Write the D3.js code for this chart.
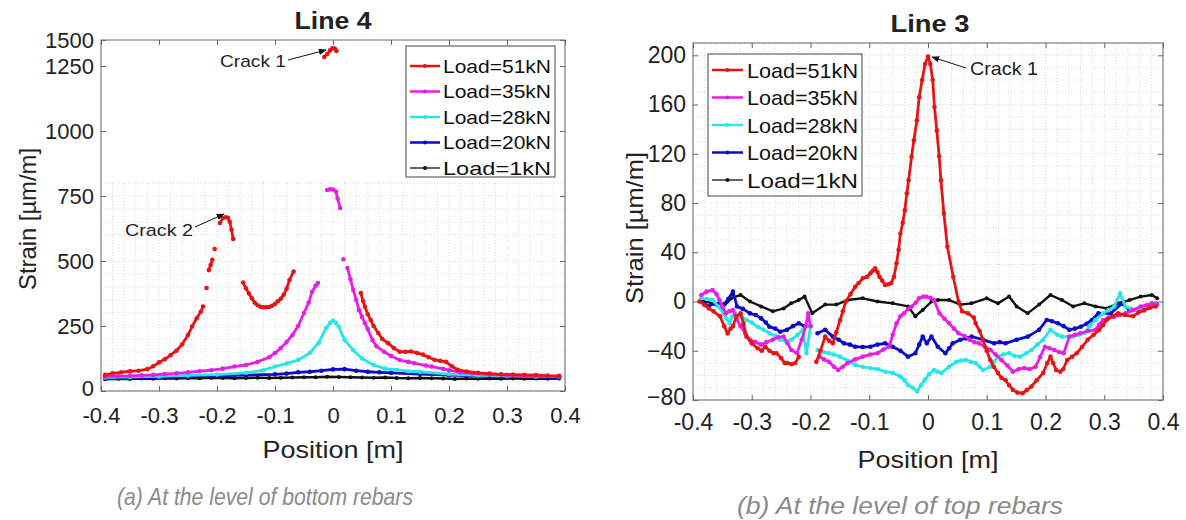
<!DOCTYPE html>
<html><head><meta charset="utf-8">
<script src="https://cdn.jsdelivr.net/npm/d3@7"></script>
<style>
body{margin:0;background:#fff;}
svg{display:block;font-family:"Liberation Sans",Arial,Helvetica,sans-serif;}
</style></head>
<body><svg id="c" width="1186" height="520"></svg>
<script>
// ---------- DATA ----------
const seriesNames = ["Load=51kN","Load=35kN","Load=28kN","Load=20kN","Load=1kN"];
const seriesColors = ["#e61414","#e61ee6","#28e6e6","#0a0ac8","#111111"];
const xTicks = [-0.4,-0.3,-0.2,-0.1,0,0.1,0.2,0.3,0.4];
const xTickLabels = ["-0.4","-0.3","-0.2","-0.1","0","0.1","0.2","0.3","0.4"];
const yTicksL4 = [0,250,500,750,1000,1250,1500];
const yTicksL3 = [-80,-40,0,40,80,120,160,200];

// Line 4 (bottom rebars): [position m, strain µm/m]; null = gap
const L4_51 = [[-0.393,62],[-0.38,68],[-0.365,72],[-0.35,76],[-0.335,78],[-0.32,84],[-0.31,95],[-0.3,110],[-0.29,122],[-0.28,138],[-0.27,155],[-0.26,180],[-0.25,215],[-0.243,248],[-0.235,280],[-0.228,305],[-0.224,325],null,
  [-0.218,396],null,[-0.214,465],[-0.211,485],[-0.208,505],null,[-0.204,546],null,
  [-0.195,646],[-0.19,665],[-0.185,668],[-0.181,666],[-0.178,651],[-0.175,620],[-0.172,585],null,
  [-0.155,417],[-0.15,395],[-0.145,375],[-0.14,357],[-0.135,340],[-0.13,330],[-0.125,324],[-0.12,322],[-0.115,322],[-0.11,323],[-0.105,328],[-0.1,335],[-0.095,345],[-0.09,355],[-0.085,370],[-0.08,393],[-0.075,427],[-0.068,459],null,
  [-0.015,1337],[-0.01,1365],[-0.005,1400],[-0.001,1420],[0.003,1418],[0.006,1395],null,
  [0.048,377],[0.052,345],[0.055,324],[0.06,295],[0.065,273],[0.07,250],[0.078,223],[0.085,200],[0.095,184],[0.105,165],[0.115,151],[0.125,151],[0.135,152],[0.145,146],[0.155,140],[0.165,130],[0.175,120],[0.185,116],[0.195,112],[0.205,95],[0.215,82],[0.23,75],[0.25,70],[0.27,67],[0.29,64],[0.31,63],[0.33,62],[0.35,61],[0.37,59],[0.39,58]];
const L4_35 = [[-0.393,55],[-0.37,57],[-0.35,58],[-0.33,60],[-0.31,62],[-0.29,65],[-0.27,68],[-0.25,72],[-0.23,76],[-0.21,80],[-0.19,86],[-0.17,94],[-0.15,100],[-0.13,112],[-0.11,130],[-0.1,146],[-0.09,165],[-0.08,188],[-0.07,215],[-0.06,250],[-0.05,300],[-0.042,340],[-0.036,382],[-0.03,405],[-0.026,415],null,
  [-0.01,773],[-0.005,776],[0,775],[0.005,767],[0.008,740],[0.0125,704],null,[0.018,507],null,
  [0.025,473],[0.03,430],[0.035,388],[0.04,350],[0.045,311],[0.05,285],[0.055,261],[0.06,238],[0.068,196],[0.075,172],[0.088,151],[0.1,135],[0.115,119],[0.13,112],[0.14,107],[0.16,98],[0.17,94],[0.19,85],[0.2,80],[0.22,72],[0.24,68],[0.27,63],[0.3,61],[0.33,59],[0.36,57],[0.39,55]];
const L4_28 = [[-0.393,52],[-0.35,54],[-0.3,56],[-0.25,60],[-0.2,63],[-0.15,70],[-0.12,80],[-0.1,94],[-0.08,106],[-0.06,119],[-0.04,146],[-0.025,184],[-0.012,242],[-0.005,262],[0,270],[0.005,262],[0.01,247],[0.02,196],[0.035,157],[0.05,125],[0.07,100],[0.09,86],[0.11,81],[0.13,76],[0.15,74],[0.2,65],[0.25,60],[0.3,58],[0.35,56],[0.39,55]];
const L4_20 = [[-0.393,48],[-0.35,50],[-0.3,52],[-0.25,55],[-0.2,58],[-0.15,61],[-0.1,64],[-0.08,67],[-0.06,72],[-0.04,74],[-0.02,78],[0,83],[0.02,84],[0.04,78],[0.06,74],[0.08,72],[0.1,70],[0.15,65],[0.2,61],[0.25,58],[0.3,56],[0.35,54],[0.39,52]];
const L4_1 = [[-0.393,45],[-0.37,47],[-0.35,46],[-0.33,48],[-0.31,47],[-0.29,49],[-0.27,48],[-0.25,50],[-0.23,49],[-0.21,51],[-0.19,50],[-0.17,49],[-0.15,50],[-0.13,51],[-0.11,50],[-0.09,51],[-0.07,52],[-0.05,53],[-0.03,53],[-0.01,55],[0.01,54],[0.03,53],[0.05,52],[0.07,51],[0.09,52],[0.11,50],[0.13,49],[0.15,50],[0.17,49],[0.19,48],[0.21,46],[0.23,48],[0.25,47],[0.27,48],[0.29,47],[0.31,48],[0.33,47],[0.35,48],[0.37,47],[0.39,48]];

// Line 3 (top rebars)
const L3_51 = [[-0.389,0],[-0.38,-3],[-0.373,-5.6],[-0.365,-8],[-0.354,-12],[-0.347,-20],[-0.341,-26],[-0.336,-22],[-0.332,-20],[-0.326,-12],[-0.319,-9.6],[-0.314,-18],[-0.309,-28.5],[-0.3,-34],[-0.29,-38],[-0.283,-40],[-0.277,-36.7],[-0.27,-40],[-0.263,-42],[-0.258,-42],[-0.25,-46],[-0.244,-50],[-0.239,-50],[-0.232,-51],[-0.226,-50],[-0.22,-45],null,
  [-0.19,-49],[-0.183,-40],[-0.175,-28.5],[-0.168,-32],[-0.162,-34],[-0.156,-25],[-0.1495,-15],[-0.145,-8],[-0.14,0],[-0.132,6],[-0.124,12],[-0.118,15],[-0.111,18.8],[-0.104,20],[-0.098,22.9],[-0.094,25],[-0.09,27],[-0.086,24],[-0.0825,20],[-0.078,17],[-0.073,13.4],[-0.068,14],[-0.063,14.8],[-0.058,20],[-0.0535,31],[-0.05,42],[-0.047,55],[-0.043,64],[-0.0395,74],[-0.036,88],[-0.033,98.6],[-0.028,117.5],[-0.024,131],[-0.019,147],[-0.015,166],[-0.01,180],[-0.005,193],[0,199],[0.004,193],[0.008,180],[0.011,158],[0.015,139],[0.019,118],[0.022,98.6],[0.027,71.6],[0.033,44.5],[0.043,20],[0.052,0],[0.058,-8],[0.068,-9.6],[0.078,-13],[0.081,-17.7],[0.088,-24],[0.0935,-31],[0.1,-40],[0.106,-47.5],[0.112,-53],[0.119,-58],[0.125,-62],[0.132,-64],[0.138,-68],[0.1445,-71.8],[0.152,-74],[0.161,-74.5],[0.168,-72],[0.176,-69],[0.185,-64],[0.196,-58],[0.203,-50],[0.2085,-44.8],[0.213,-50],[0.218,-55.6],[0.225,-57],[0.23,-55],[0.237,-47.5],[0.245,-45],[0.253,-42],[0.262,-37],[0.272,-31],[0.282,-27],[0.2915,-23],[0.298,-19],[0.304,-15],[0.314,-12],[0.3236,-9.6],[0.335,-11],[0.349,-12],[0.358,-9],[0.368,-7],[0.378,-5],[0.3875,-4]];
const L3_35 = [[-0.386,5.3],[-0.377,8],[-0.367,9.3],[-0.36,6],[-0.355,1.2],[-0.35,-4],[-0.344,-9.6],[-0.338,-8],[-0.332,-7],[-0.326,-14],[-0.319,-20],[-0.311,-26],[-0.303,-31],[-0.294,-33],[-0.284,-35],[-0.275,-33],[-0.2645,-31],[-0.255,-29],[-0.2457,-28.5],[-0.239,-34],[-0.2327,-39.4],[-0.223,-42],[-0.215,-31],[-0.208,-20],[-0.204,-9.6],[-0.2,-20],null,
  [-0.1845,-44.8],[-0.177,-47],[-0.1687,-49],[-0.16,-53],[-0.153,-55.6],[-0.145,-53],[-0.137,-50],[-0.124,-47],[-0.111,-44.8],[-0.098,-43],[-0.086,-42],[-0.076,-39],[-0.066,-36.7],[-0.06,-27],[-0.0535,-17.7],[-0.047,-12],[-0.041,-9.6],[-0.034,-6],[-0.028,-4.2],[-0.021,-1],[-0.0153,2.6],[-0.008,4],[-0.0026,3.9],[0.004,3],[0.01,1.2],[0.0196,-9.6],[0.028,-14],[0.036,-17.7],[0.044,-22],[0.052,-25.8],[0.062,-28],[0.071,-31],[0.079,-33],[0.087,-34],[0.097,-37],[0.1063,-39.4],[0.115,-43],[0.125,-47.5],[0.135,-52],[0.1446,-57],[0.154,-55],[0.164,-54],[0.173,-55],[0.183,-53],[0.191,-45],[0.199,-36.7],[0.207,-38],[0.215,-39.4],[0.223,-41],[0.231,-42],[0.2406,-28.5],[0.25,-27],[0.2594,-25.8],[0.272,-24],[0.285,-23],[0.291,-19],[0.298,-15],[0.307,-13],[0.317,-12.3],[0.326,-11],[0.336,-9.6],[0.349,-7],[0.362,-4],[0.372,-3],[0.381,-1.5],[0.39,-2.5]];
const L3_28 = [[-0.386,2.6],[-0.376,2],[-0.367,1.2],[-0.357,-4],[-0.348,-9.6],[-0.343,-14],[-0.338,-17.7],[-0.333,-12],[-0.328,-9.6],[-0.318,-12],[-0.309,-15],[-0.3,-17],[-0.29,-20.5],[-0.28,-23],[-0.27,-25.8],[-0.26,-28],[-0.2517,-31],[-0.243,-32],[-0.232,-31],[-0.222,-27],[-0.213,-23],[-0.207,-42],[-0.2,-20],null,
  [-0.188,-39.4],[-0.178,-41],[-0.169,-42],[-0.16,-43],[-0.15,-44.8],[-0.137,-48],[-0.124,-51.5],[-0.111,-53],[-0.098,-54.2],[-0.085,-55],[-0.073,-57],[-0.06,-58],[-0.047,-61],[-0.04,-64],[-0.034,-67.8],[-0.026,-70],[-0.0184,-73],[-0.012,-68],[-0.0056,-63.7],[0.002,-59],[0.01,-55.6],[0.016,-57],[0.023,-58],[0.036,-53],[0.0485,-49],[0.056,-48],[0.0646,-47.5],[0.073,-49],[0.081,-50],[0.088,-53],[0.0935,-55.6],[0.106,-53],[0.112,-49],[0.119,-44.8],[0.128,-43],[0.138,-42],[0.147,-44],[0.157,-44.8],[0.167,-42],[0.1765,-39.4],[0.186,-35],[0.196,-31],[0.2085,-23],[0.22,-27],[0.228,-28.5],[0.247,-28.5],[0.256,-27],[0.266,-25.8],[0.275,-20],[0.285,-15],[0.298,-9.6],[0.307,-7],[0.317,-4],[0.327,6.6],[0.336,-4],[0.346,-6],[0.3556,-7],[0.365,-5],[0.375,-4],[0.387,-1.5]];
const L3_20 = [[-0.386,1],[-0.38,-2],[-0.373,-4],[-0.365,-1.5],[-0.355,-2],[-0.348,-2.5],[-0.34,2],[-0.332,8],[-0.325,-4],[-0.315,-6],[-0.303,-9.6],[-0.293,-11],[-0.284,-13.7],[-0.276,-17],[-0.27,-20.5],[-0.26,-22],[-0.2517,-24.5],[-0.24,-23],[-0.23,-20],[-0.22,-17.7],[-0.21,-20],null,
  [-0.188,-25.8],[-0.175,-23],[-0.162,-28.5],[-0.152,-31],[-0.143,-34],[-0.133,-35],[-0.124,-36.7],[-0.111,-37],[-0.098,-36.7],[-0.086,-35],[-0.073,-34],[-0.06,-36.7],[-0.047,-40],[-0.034,-44.8],[-0.0216,-42],[-0.015,-35],[-0.009,-28.5],[-0.002,-34],[0.0059,-28.5],[0.0167,-36.7],[0.0296,-42],[0.036,-38],[0.042,-34],[0.055,-31],[0.065,-30],[0.0743,-28.5],[0.0935,-31],[0.1126,-34],[0.122,-33],[0.132,-34],[0.151,-31],[0.17,-28.5],[0.189,-23],[0.202,-15],[0.211,-16],[0.221,-17.7],[0.231,-20],[0.2406,-23],[0.25,-22],[0.26,-20.5],[0.27,-18],[0.279,-15],[0.29,-9.6],[0.311,-9.6],[0.33,-1.5],[0.343,-7],[0.368,-7],[0.3875,-1.5]];
const L3_1 = [[-0.386,1],[-0.367,-1.5],[-0.351,-5.6],[-0.335,2.6],[-0.319,5.3],[-0.303,0],[-0.284,-4],[-0.264,-8],[-0.2457,-5.6],[-0.233,-1.5],[-0.22,1.2],[-0.21,4],[-0.197,-9.6],[-0.175,-2.5],[-0.156,-2.5],[-0.137,1.2],[-0.111,2.6],[-0.086,0],[-0.06,-1.5],[-0.034,-4],[-0.0216,-12],[-0.009,-6.9],[0.006,0],[0.0167,1.2],[0.036,1.2],[0.055,-2.5],[0.074,-1.5],[0.0999,2.6],[0.119,-1.5],[0.138,4],[0.151,-4],[0.1695,-9.6],[0.189,-2.5],[0.2085,5.3],[0.228,1.2],[0.247,-4],[0.266,-1.5],[0.285,-4],[0.304,-5.6],[0.324,-1.5],[0.343,1.2],[0.362,4],[0.381,5.3],[0.39,2.6]];

// ---------- DRAW ----------
const svg = d3.select("#c");
svg.append("rect").attr("width",1186).attr("height",520).attr("fill","#fff");
const defs = svg.append("defs");
defs.append("marker").attr("id","ah").attr("viewBox","0 0 10 10").attr("refX",9).attr("refY",5)
  .attr("markerWidth",8).attr("markerHeight",8).attr("orient","auto")
  .append("path").attr("d","M0,1 L10,5 L0,9 Z").attr("fill","#111");

function stretchText(sel, len){ sel.attr("textLength",len).attr("lengthAdjust","spacingAndGlyphs"); return sel; }

function drawChart(o){
  const g = svg.append("g");
  const x = o.x, y = o.y;
  const [x0,x1] = x.range();
  const yb = y(y.domain()[0]), yt = y(y.domain()[y.domain().length-1]);
  const cid = "clip"+o.id;
  defs.append("clipPath").attr("id",cid).append("rect").attr("x",x0).attr("y",yt).attr("width",x1-x0).attr("height",yb-yt);
  // grid
  const gg = g.append("g");
  const gyTop = y(o.gridYMax);
  d3.range(-0.4,0.4001,0.02).forEach(v=>{
    gg.append("line").attr("x1",x(v)).attr("x2",x(v)).attr("y1",yb).attr("y2",gyTop)
      .attr("stroke","#c8c8c8").attr("stroke-width",0.7).attr("stroke-dasharray","1,2");
  });
  d3.range(o.gridYMin,o.gridYMax+0.001,o.gridYStep).forEach(v=>{
    gg.append("line").attr("x1",x0).attr("x2",x1).attr("y1",y(v)).attr("y2",y(v))
      .attr("stroke","#c8c8c8").attr("stroke-width",0.7).attr("stroke-dasharray","1,2");
  });
  // series
  const line = d3.line().defined(d=>d!==null).x(d=>x(d[0])).y(d=>y(d[1]));
  const pg = g.append("g").attr("clip-path",`url(#${cid})`);
  for(let i=o.series.length-1;i>=0;i--){
    const s = o.series[i];
    pg.append("path").datum(s).attr("d",line).attr("fill","none").attr("stroke",seriesColors[i])
      .attr("stroke-width", i===4?2.4:2.8).attr("stroke-linejoin","round");
    pg.selectAll(null).data(s.filter(d=>d!==null)).enter().append("circle")
      .attr("cx",d=>x(d[0])).attr("cy",d=>y(d[1])).attr("r",i===4?2:2.3).attr("fill",seriesColors[i]);
  }
  // box
  g.append("rect").attr("x",x0).attr("y",yt).attr("width",x1-x0).attr("height",yb-yt)
    .attr("fill","none").attr("stroke","#666").attr("stroke-width",1);
  // axes
  const ax = g.append("g").attr("transform",`translate(0,${yb})`)
    .call(d3.axisBottom(x).tickValues(xTicks).tickFormat((d,i)=>xTickLabels[i]).tickSizeInner(-5).tickSizeOuter(0).tickPadding(o.xPad));
  ax.select(".domain").remove();
  ax.selectAll("line").attr("stroke","#666");
  ax.selectAll("text").attr("font-size",o.tickFont).attr("fill","#222").attr("font-family","Liberation Sans, Arial, sans-serif");
  const axT = g.append("g").attr("transform",`translate(0,${yt})`)
    .call(d3.axisTop(x).tickValues(xTicks).tickSizeInner(-5).tickSizeOuter(0).tickFormat(""));
  axT.select(".domain").remove(); axT.selectAll("line").attr("stroke","#666");
  const ay = g.append("g").attr("transform",`translate(${x0},0)`)
    .call(d3.axisLeft(y).tickValues(o.yTicks).tickFormat(d3.format("d")).tickSizeInner(-5).tickSizeOuter(0).tickPadding(7));
  ay.select(".domain").remove(); ay.selectAll("line").attr("stroke","#666");
  ay.selectAll("text").attr("font-size",o.tickFont).attr("fill","#222").attr("font-family","Liberation Sans, Arial, sans-serif");
  // lift the bottom-most y label a touch so it clears the first x label
  ay.selectAll("text").filter(d=>d===o.yTicks[0]).attr("dy","0.2em");
  const ayR = g.append("g").attr("transform",`translate(${x1},0)`)
    .call(d3.axisRight(y).tickValues(o.yTicks).tickSizeInner(-5).tickSizeOuter(0).tickFormat(""));
  ayR.select(".domain").remove(); ayR.selectAll("line").attr("stroke","#666");
  // title & labels
  stretchText(g.append("text").attr("x",o.titleX).attr("y",o.titleY).attr("text-anchor","middle")
    .attr("font-weight","bold").attr("font-size",23).attr("fill","#222").text(o.title), o.titleW);
  stretchText(g.append("text").attr("x",o.xlabX).attr("y",o.xlabY).attr("text-anchor","middle")
    .attr("font-size",24).attr("fill","#222").text("Position [m]"), 141);
  stretchText(g.append("text").attr("transform",`translate(${o.ylabX},${o.ylabY}) rotate(-90)`).attr("text-anchor","middle")
    .attr("font-size",24).attr("fill","#222").text("Strain [µm/m]"), o.ylabW);
  // legend
  const L = o.legend;
  const lg = g.append("g");
  lg.append("rect").attr("x",L.x).attr("y",L.y).attr("width",L.w).attr("height",L.h)
    .attr("fill","#fff").attr("stroke","#444").attr("stroke-width",1);
  seriesNames.forEach((n,i)=>{
    const yy = L.y0 + i*L.dy;
    lg.append("line").attr("x1",L.lx0).attr("x2",L.lx1).attr("y1",yy).attr("y2",yy)
      .attr("stroke",seriesColors[i]).attr("stroke-width",i===4?1.3:2.5);
    lg.append("circle").attr("cx",(L.lx0+L.lx1)/2).attr("cy",yy).attr("r",2).attr("fill",seriesColors[i]);
    stretchText(lg.append("text").attr("x",L.tx).attr("y",yy).attr("dy","0.36em").attr("font-size",L.fs)
      .attr("fill","#111").text(n), L.tw);
  });
  // annotations
  o.notes.forEach(a=>{
    stretchText(g.append("text").attr("x",a.tx).attr("y",a.ty).attr("font-size",a.fs).attr("fill","#222").text(a.text), a.tw);
    g.append("line").attr("x1",a.ax0).attr("y1",a.ay0).attr("x2",a.ax1).attr("y2",a.ay1)
      .attr("stroke","#111").attr("stroke-width",1).attr("marker-end","url(#ah)");
  });
  // caption
  stretchText(g.append("text").attr("x",o.capX).attr("y",o.capY).attr("text-anchor","middle")
    .attr("font-style","italic").attr("font-size",o.capFs).attr("fill","#8a8a8a").text(o.caption), o.capW);
}

drawChart({
  id:"L", x:d3.scaleLinear().domain([-0.4,0.4]).range([101,565]),
  y:d3.scaleLinear().domain([0,1250,1500]).range([391,66,40]),
  yTicks:yTicksL4, gridYMin:0, gridYMax:800, gridYStep:50, tickFont:22, xPad:16,
  series:[L4_51,L4_35,L4_28,L4_20,L4_1],
  title:"Line 4", titleX:333, titleY:29, titleW:77,
  xlabX:333, xlabY:458, ylabX:36, ylabY:219, ylabW:142,
  legend:{x:406,y:46,w:149,h:131,y0:66,dy:25.5,lx0:410,lx1:440,tx:443,tw:108,fs:19},
  notes:[{text:"Crack 1",tx:220,ty:67,fs:17,tw:66,ax0:288,ay0:60,ax1:326,ay1:50},
         {text:"Crack 2",tx:125,ty:236,fs:17,tw:68,ax0:195,ay0:227,ax1:224,ay1:214}],
  caption:"(a) At the level of bottom rebars", capX:265, capY:505, capFs:24, capW:296
});
drawChart({
  id:"R", x:d3.scaleLinear().domain([-0.4,0.4]).range([693,1163]),
  y:d3.scaleLinear().domain([-80,210]).range([400,43]),
  yTicks:yTicksL3, gridYMin:-80, gridYMax:210, gridYStep:10, tickFont:23, xPad:14,
  series:[L3_51,L3_35,L3_28,L3_20,L3_1],
  title:"Line 3", titleX:930, titleY:32, titleW:79,
  xlabX:928, xlabY:468, ylabX:643, ylabY:228, ylabW:152,
  legend:{x:708,y:54,w:154,h:142,y0:70,dy:27.5,lx0:712,lx1:743,tx:747,tw:111,fs:21},
  notes:[{text:"Crack 1",tx:970,ty:75,fs:19,tw:68,ax0:966,ay0:68,ax1:932,ay1:57}],
  caption:"(b) At the level of top rebars", capX:900, capY:514, capFs:24, capW:326
});
</script></body></html>
